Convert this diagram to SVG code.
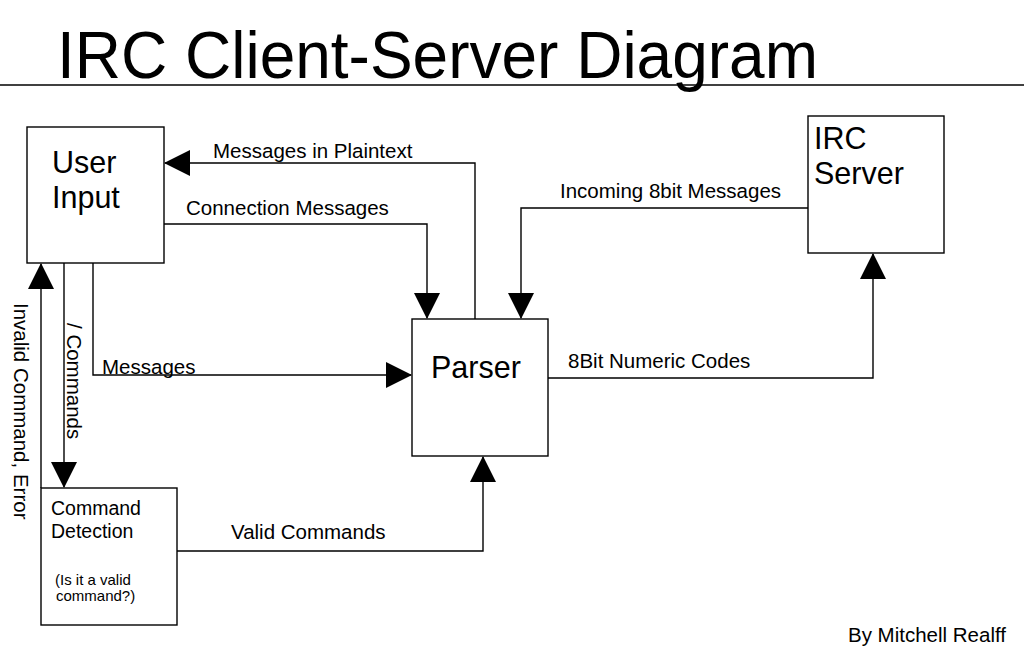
<svg xmlns="http://www.w3.org/2000/svg" width="1024" height="656" viewBox="0 0 1024 656">
<defs>
<style>
text{font-family:"Liberation Sans",Arial,sans-serif;fill:#000}
.box{fill:#fff;stroke:#000;stroke-width:1.4}
.big{font-size:30.5px}
.lbl{font-size:20.5px}
.mid{font-size:19.5px}
.small{font-size:15px}
.wire{fill:none;stroke:#000;stroke-width:1.4}
</style>
<marker id="ah" markerUnits="userSpaceOnUse" markerWidth="26" markerHeight="26" refX="25" refY="13" orient="auto" viewBox="0 0 26 26">
<path d="M0,0 L26,13 L0,26 Z" fill="#000"/>
</marker>
</defs>
<rect width="1024" height="656" fill="#fff"/>
<g id="title">
<text x="57" y="78" font-size="66" textLength="761" lengthAdjust="spacingAndGlyphs">IRC Client-Server Diagram</text>
<line x1="0" y1="85" x2="1024" y2="85" stroke="#000" stroke-width="1.4"/>
</g>
<g id="connectors">
<polyline class="wire" points="475,319 475,163 165,163" marker-end="url(#ah)"/>
<polyline class="wire" points="164,224 427,224 427,318" marker-end="url(#ah)"/>
<polyline class="wire" points="93,263 93,375 411,375" marker-end="url(#ah)"/>
<polyline class="wire" points="64,263 64,487" marker-end="url(#ah)"/>
<polyline class="wire" points="41,488 41,264" marker-end="url(#ah)"/>
<polyline class="wire" points="177,551 483,551 483,457" marker-end="url(#ah)"/>
<polyline class="wire" points="808,208 521,208 521,318" marker-end="url(#ah)"/>
<polyline class="wire" points="548,378 873,378 873,254" marker-end="url(#ah)"/>
<text class="lbl" x="213" y="158">Messages in Plaintext</text>
<text class="lbl" x="186" y="215">Connection Messages</text>
<text class="lbl" x="102" y="374">Messages</text>
<text class="lbl" x="560" y="198">Incoming 8bit Messages</text>
<text class="lbl" x="568" y="368">8Bit Numeric Codes</text>
<text class="lbl" x="231" y="539">Valid Commands</text>
<text class="lbl" transform="translate(14,303) rotate(90)">Invalid Command, Error</text>
<text class="lbl" transform="translate(67,323) rotate(90)">/ Commands</text>
</g>
<g id="user-input">
<rect class="box" x="27" y="127" width="137" height="136"/>
<text class="big" x="52" y="173">User</text>
<text class="big" x="52" y="208">Input</text>
</g>
<g id="irc-server">
<rect class="box" x="808" y="116" width="136" height="137"/>
<text class="big" x="814" y="149">IRC</text>
<text class="big" x="814" y="184">Server</text>
</g>
<g id="parser">
<rect class="box" x="412" y="319" width="136" height="137"/>
<text class="big" x="431" y="378">Parser</text>
</g>
<g id="command-detection">
<rect class="box" x="41" y="488" width="136" height="137"/>
<text class="mid" x="51" y="515">Command</text>
<text class="mid" x="51" y="538">Detection</text>
<text class="small" x="55" y="585">(Is it a valid</text>
<text class="small" x="56" y="601">command?)</text>
</g>
<g id="credit">
<text class="lbl" x="848" y="642">By Mitchell Realff</text>
</g>
</svg>
